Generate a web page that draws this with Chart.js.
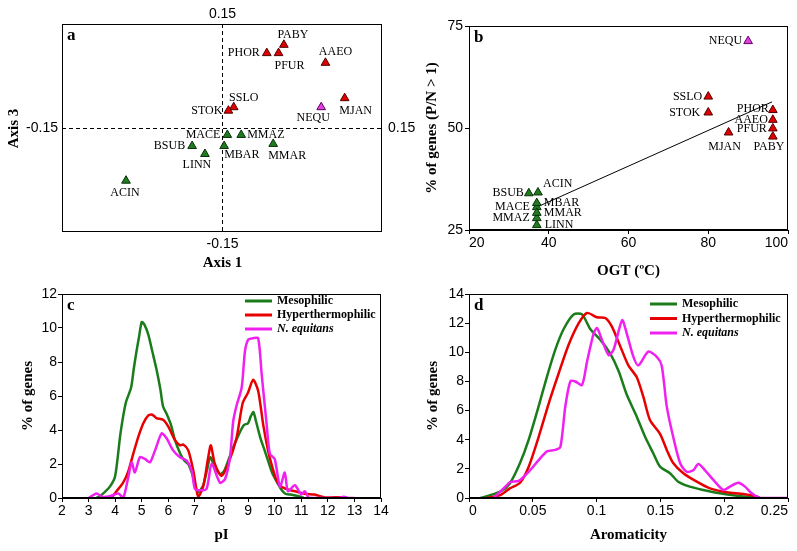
<!DOCTYPE html>
<html>
<head>
<meta charset="utf-8">
<script src="https://cdn.jsdelivr.net/npm/chart.js@4"></script>
<style>
  body { margin: 0; background: #fff; width: 797px; height: 551px; overflow: hidden; position: relative; }
  canvas { position: absolute; }
</style>
</head>
<body>
<canvas id="chartA" width="420" height="280" style="left:0;top:0"></canvas>
<canvas id="chartB" width="397" height="280" style="left:400px;top:0"></canvas>
<canvas id="chartC" width="400" height="271" style="left:0;top:280px"></canvas>
<canvas id="chartD" width="397" height="271" style="left:400px;top:280px"></canvas>
<script>
// genomes shown in panels a and b
const names  = ['PABY', 'PHOR', 'PFUR', 'AAEO', 'SSLO', 'STOK', 'MJAN', 'NEQU',
                'MACE', 'MMAZ', 'MBAR', 'MMAR', 'BSUB', 'LINN', 'ACIN'];
const groups = ['hyper', 'hyper', 'hyper', 'hyper', 'hyper', 'hyper', 'hyper', 'nequ',
                'meso', 'meso', 'meso', 'meso', 'meso', 'meso', 'meso'];

// panel a: correspondence analysis
const axis1 = [0.058, 0.042, 0.053, 0.097, 0.011, 0.006, 0.115, 0.093,
               0.005, 0.018, 0.002, 0.048, -0.028, -0.016, -0.090];
const axis3 = [0.120, 0.108, 0.108, 0.094, 0.030, 0.025, 0.043, 0.030,
               -0.010, -0.010, -0.026, -0.023, -0.026, -0.0375, -0.076];

// panel b: growth temperature vs % genes with P/N > 1
const ogt   = [96.2, 96.2, 96.2, 96.2, 80, 80, 85.1, 90,
               37, 37, 37, 37, 35, 37, 37.3];
const pnPct = [47.9, 54.4, 49.9, 52.0, 57.7, 53.8, 48.9, 71.3,
               30.6, 27.9, 31.6, 29.2, 34.0, 26.2, 34.2];
const trendOgt = [37, 96];
const trendPct = [30.6, 56.4];

// panel c: pI distributions [pI, % of genes]
const pIMeso = [[3.3,0],[3.5,0.2],[3.8,0.67],[4.0,1.3],[4.2,3.8],[4.4,5.6],[4.6,6.5],[4.7,7.6],[4.8,8.6],[4.9,9.5],
  [5.0,10.35],[5.1,10.2],[5.25,9.6],[5.4,8.6],[5.55,7.6],[5.7,6.4],[5.8,5.4],[5.95,4.9],[6.1,4.3],[6.25,3.4],
  [6.45,2.6],[6.6,2.2],[6.75,2.0],[6.9,1.4],[7.0,0.8],[7.12,0.35],[7.3,0.7],[7.45,1.6],[7.58,2.4],[7.75,1.8],
  [7.95,1.4],[8.1,1.6],[8.3,2.4],[8.5,3.2],[8.7,3.9],[8.85,4.3],[9.0,4.4],[9.1,4.8],[9.2,5.05],[9.3,4.5],
  [9.45,3.6],[9.6,2.9],[9.75,2.2],[9.9,1.5],[10.1,0.9],[10.25,0.5],[10.4,0.25],[10.6,0.2],[10.9,0.1],[11.1,0]];
const pIHyper = [[3.7,0],[3.9,0.1],[4.05,0.4],[4.3,0.9],[4.5,1.6],[4.68,2.6],[4.87,3.6],[5.06,4.4],[5.24,4.85],[5.4,4.9],
  [5.55,4.7],[5.8,4.6],[6.0,4.2],[6.25,3.4],[6.44,3.1],[6.56,3.15],[6.75,2.8],[6.94,1.6],[7.12,0.1],[7.31,0.66],
  [7.5,2.4],[7.6,3.1],[7.75,2.0],[8.0,1.3],[8.25,2.0],[8.56,3.5],[8.8,5.6],[9.0,6.2],[9.19,6.95],[9.38,6.3],
  [9.57,4.3],[9.75,2.8],[9.88,2.0],[10.07,1.05],[10.26,0.66],[10.5,0.5],[10.76,0.4],[11.13,0.25],[11.5,0.2],[11.9,0.03],
  [12.5,0.05],[12.7,0]];
const pINequ = [[3.0,0],[3.3,0.27],[3.5,0.07],[3.8,0.1],[4.12,0.27],[4.3,0],[4.49,1.2],[4.62,2.1],[4.74,1.5],[4.93,2.4],
  [5.12,2.3],[5.31,2.1],[5.5,2.8],[5.75,3.8],[5.94,3.5],[6.18,2.8],[6.44,2.4],[6.69,2.2],[6.88,1.6],[7.0,0.55],
  [7.19,0.45],[7.44,0.55],[7.63,2.0],[7.94,0.9],[8.13,1.1],[8.32,2.4],[8.44,4.5],[8.56,5.4],[8.76,6.5],[8.88,8.6],
  [9.0,9.3],[9.19,9.4],[9.38,9.4],[9.51,7.3],[9.7,4.3],[9.82,2.6],[10.0,2.3],[10.2,0.66],[10.38,1.5],[10.5,0.4],
  [10.76,0.75],[11.0,0.2],[11.13,0.4],[11.3,0],[12.4,0],[12.6,0.08],[12.8,0],[13.0,0]];

// panel d: aromaticity distributions [aromaticity, % of genes]
const aroMeso = [[0.009,0],[0.0245,0.43],[0.032,1.0],[0.040,2.4],[0.0468,4.0],[0.0546,6.3],[0.061,8.3],[0.0677,10.2],
  [0.0742,11.6],[0.082,12.6],[0.0886,12.6],[0.095,11.6],[0.103,10.85],[0.1107,9.9],[0.1173,8.7],[0.1236,7.1],
  [0.1314,5.6],[0.138,4.2],[0.1444,3.07],[0.1497,2.15],[0.1575,1.7],[0.164,1.12],[0.173,0.78],[0.1836,0.55],
  [0.1967,0.32],[0.21,0.16],[0.223,0.05],[0.228,0]];
const aroHyper = [[0.014,0],[0.0245,0.2],[0.032,0.66],[0.040,1.05],[0.0468,2.15],[0.0546,4.2],[0.0625,6.5],[0.0703,8.56],
  [0.078,10.5],[0.086,12.0],[0.0925,12.7],[0.1003,12.4],[0.1068,12.35],[0.112,11.76],[0.1186,10.4],[0.1249,9.1],
  [0.1314,8.3],[0.1366,6.95],[0.1418,5.35],[0.1497,4.4],[0.155,3.3],[0.16,2.4],[0.168,1.7],[0.1785,1.12],
  [0.1889,0.66],[0.202,0.39],[0.215,0.27],[0.2255,0.1],[0.228,0]];
const aroNequ = [[0.0193,0],[0.0285,0.78],[0.0324,1.1],[0.039,1.17],[0.0468,1.8],[0.0546,2.6],[0.0611,3.2],[0.0676,3.3],
  [0.0716,3.5],[0.0755,6.3],[0.0794,8.0],[0.0833,8.0],[0.0886,7.76],[0.0925,9.36],[0.0977,11.3],[0.1003,11.66],
  [0.1042,10.85],[0.1095,9.8],[0.1134,10.2],[0.12,12.2],[0.1236,11.3],[0.1288,9.7],[0.1327,9.1],[0.1405,10.04],
  [0.147,9.7],[0.151,9.1],[0.155,6.27],[0.16,4.2],[0.1654,2.4],[0.1706,1.8],[0.1758,1.9],[0.1797,2.33],
  [0.185,1.9],[0.1915,1.24],[0.1993,0.55],[0.2045,0.78],[0.211,1.05],[0.2163,0.78],[0.2215,0.32],[0.228,0],[0.25,0]];

const seriesLabels = ['Mesophilic', 'Hyperthermophilic', 'N. equitans'];

// ---- styling ----
const lineColors = ['#1a7c1a', '#e80000', '#f020f0'];
const markFill = { hyper: '#e00000', meso: '#1e7b1e', nequ: '#e040e0' };
const markEdge = { hyper: '#500000', meso: '#0a300a', nequ: '#600060' };
const tickFont = { family: '"Liberation Sans", Arial, sans-serif', size: 14 };
const titleFont = { family: '"Liberation Serif", "Times New Roman", serif', size: 15, weight: 'bold' };

// label offsets [dx, dy, align] per genome
const aLabelPos = [[9,-10,'center'],[-7,0,'right'],[11,13,'center'],[10,-11,'center'],[10,-9,'center'],
  [-6,0,'right'],[11,13,'center'],[-8,11,'center'],[-7,0,'right'],[6,0,'left'],
  [0,9,'left'],[14,12,'center'],[-7,0,'right'],[-8,11,'center'],[-1,12,'center']];
const bLabelPos = [[-4,10,'center'],[-4,-1,'right'],[-6,0,'right'],[-5,0,'right'],[-6,0,'right'],
  [-8,0,'right'],[-4,14,'center'],[-6,0,'right'],[-7,0,'right'],[-7,0,'right'],
  [7,0,'left'],[7,0,'left'],[-5,0,'right'],[8,0,'left'],[5,-9,'left']];

// ---- plugins ----
const frame = {
  id: 'frame',
  afterDraw(chart) {
    const { ctx, chartArea: a } = chart;
    ctx.save();
    ctx.strokeStyle = '#000';
    ctx.lineWidth = 1;
    ctx.strokeRect(Math.round(a.left) + 0.5, Math.round(a.top) + 0.5,
      Math.round(a.right - a.left) - 1, Math.round(a.bottom - a.top) - 1);
    ctx.restore();
  }
};

const panelTag = {
  id: 'panelTag',
  afterDraw(chart, args, opts) {
    const { ctx, chartArea: a } = chart;
    ctx.save();
    ctx.font = opts.font;
    ctx.fillStyle = '#000';
    ctx.textBaseline = 'top';
    ctx.fillText(opts.text, a.left + 5, a.top + 3);
    ctx.restore();
  }
};

const pointLabels = {
  id: 'pointLabels',
  afterDatasetsDraw(chart, args, opts) {
    const ctx = chart.ctx;
    const meta = chart.getDatasetMeta(0);
    ctx.save();
    ctx.font = '12px "Liberation Serif", serif';
    ctx.fillStyle = '#000';
    ctx.textBaseline = 'middle';
    meta.data.forEach((pt, i) => {
      const [dx, dy, align] = opts.offsets[i];
      ctx.textAlign = align;
      ctx.fillText(names[i], pt.x + dx, pt.y + dy);
    });
    ctx.restore();
  }
};

// dashed zero lines + end labels for the ordination plot
const crossHairs = {
  id: 'crossHairs',
  beforeDatasetsDraw(chart) {
    const { ctx, chartArea: a, scales: { x, y } } = chart;
    const x0 = Math.round(x.getPixelForValue(0)) + 0.5;
    const y0 = Math.round(y.getPixelForValue(0)) + 0.5;
    ctx.save();
    ctx.strokeStyle = '#000';
    ctx.lineWidth = 1;
    ctx.setLineDash([4, 3]);
    ctx.beginPath();
    ctx.moveTo(x0, a.top); ctx.lineTo(x0, a.bottom);
    ctx.moveTo(a.left, y0); ctx.lineTo(a.right, y0);
    ctx.stroke();
    ctx.setLineDash([]);

    ctx.fillStyle = '#000';
    ctx.font = '14px "Liberation Sans", Arial, sans-serif';
    ctx.textBaseline = 'middle';
    ctx.textAlign = 'center';
    ctx.fillText(String(y.max), x0, a.top - 10);
    ctx.fillText(String(y.min), x0, a.bottom + 12);
    ctx.textAlign = 'right';
    ctx.fillText(String(x.min), a.left - 4, y0);
    ctx.textAlign = 'left';
    ctx.fillText(String(x.max), a.right + 6, y0);

    ctx.font = 'bold 15px "Liberation Serif", serif';
    ctx.textAlign = 'center';
    ctx.fillText('Axis 1', x0, a.bottom + 31);
    ctx.translate(14, y0);
    ctx.rotate(-Math.PI / 2);
    ctx.fillText('Axis 3', 0, 0);
    ctx.restore();
  }
};

const lineKey = {
  id: 'lineKey',
  afterDraw(chart, args, opts) {
    const { ctx, chartArea: a } = chart;
    ctx.save();
    chart.data.datasets.forEach((ds, i) => {
      const y = a.top + opts.top + i * opts.step;
      const x = a.right - opts.right;
      ctx.strokeStyle = ds.borderColor;
      ctx.lineWidth = 3;
      ctx.beginPath();
      ctx.moveTo(x, y); ctx.lineTo(x + 27, y);
      ctx.stroke();
      ctx.font = (ds.label === seriesLabels[2] ? 'italic ' : '') + 'bold 12px "Liberation Serif", serif';
      ctx.fillStyle = '#000';
      ctx.textBaseline = 'middle';
      ctx.textAlign = 'left';
      ctx.fillText(ds.label, x + 32, y);
    });
    ctx.restore();
  }
};

function fixSize(prop, val) {
  return s => { s[prop] = val; s.paddingLeft = 0; s.paddingRight = 0; s.paddingTop = 0; s.paddingBottom = 0; };
}

function axis(min, max, step, title, sizeProp, size, tickPad, titlePad, fmt, align) {
  return {
    type: 'linear',
    min: min, max: max,
    title: { display: true, text: title, color: '#000', font: titleFont, padding: titlePad },
    ticks: { stepSize: step, color: '#000', font: tickFont, padding: tickPad, autoSkip: false, maxRotation: 0,
             align: align || 'center', callback: fmt || (v => v) },
    grid: { drawOnChartArea: false, drawTicks: true, tickLength: 4, color: '#000' },
    border: { display: true, color: '#000' },
    afterFit: fixSize(sizeProp, size)
  };
}

const noFx = { legend: { display: false }, tooltip: { enabled: false } };

// ---- panel a ----
new Chart(document.getElementById('chartA'), {
  type: 'scatter',
  data: {
    datasets: [{
      data: names.map((n, i) => ({ x: axis1[i], y: axis3[i] })),
      pointStyle: 'triangle',
      pointRadius: 5,
      pointBackgroundColor: groups.map(g => markFill[g]),
      pointBorderColor: groups.map(g => markEdge[g]),
      pointBorderWidth: 1
    }]
  },
  options: {
    responsive: false,
    animation: false,
    layout: { padding: { left: 62, right: 38, top: 24, bottom: 48 } },
    plugins: Object.assign({}, noFx, {
      panelTag: { text: 'a', font: 'bold 17px "Liberation Serif", serif' },
      pointLabels: { offsets: aLabelPos }
    }),
    scales: {
      x: { display: false, min: -0.15, max: 0.15 },
      y: { display: false, min: -0.15, max: 0.15 }
    }
  },
  plugins: [crossHairs, frame, panelTag, pointLabels]
});

// ---- panel b ----
new Chart(document.getElementById('chartB'), {
  type: 'scatter',
  data: {
    datasets: [{
      data: names.map((n, i) => ({ x: ogt[i], y: pnPct[i] })),
      pointStyle: 'triangle',
      pointRadius: 5,
      pointBackgroundColor: groups.map(g => markFill[g]),
      pointBorderColor: groups.map(g => markEdge[g]),
      pointBorderWidth: 1,
      order: 1
    }, {
      data: trendOgt.map((v, i) => ({ x: v, y: trendPct[i] })),
      showLine: true,
      borderColor: '#000',
      borderWidth: 1,
      pointRadius: 0,
      order: 2
    }]
  },
  options: {
    responsive: false,
    animation: false,
    layout: { padding: { left: 23, right: 9, top: 26, bottom: 0 } },
    plugins: Object.assign({}, noFx, {
      panelTag: { text: 'b', font: 'bold 17px "Liberation Serif", serif' },
      pointLabels: { offsets: bLabelPos }
    }),
    scales: {
      x: axis(20, 100, 20, 'OGT (ºC)', 'height', 50, 1, { bottom: 0 }, null, 'inner'),
      y: axis(25, 75, 25, '% of genes (P/N > 1)', 'width', 46, 2, { top: 0 })
    }
  },
  plugins: [frame, panelTag, pointLabels]
});

// ---- panels c and d ----
function curves(sets) {
  return sets.map((pts, i) => ({
    label: seriesLabels[i],
    data: pts.map(p => ({ x: p[0], y: p[1] })),
    borderColor: lineColors[i],
    borderWidth: 2.5,
    pointRadius: 0,
    tension: 0.25,
    fill: false,
    order: 3 - i
  }));
}

new Chart(document.getElementById('chartC'), {
  type: 'line',
  data: { datasets: curves([pIMeso, pIHyper, pINequ]) },
  options: {
    responsive: false,
    animation: false,
    layout: { padding: { left: 19, right: 19, top: 14, bottom: 0 } },
    plugins: Object.assign({}, noFx, {
      panelTag: { text: 'c', font: 'bold 17px "Liberation Serif", serif' },
      lineKey: { right: 136, top: 7, step: 14 }
    }),
    scales: {
      x: axis(2, 14, 1, 'pI', 'height', 53, 1, { bottom: 7 }),
      y: axis(0, 12, 2, '% of genes', 'width', 43, 1, { top: 0 })
    }
  },
  plugins: [frame, panelTag, lineKey]
});

new Chart(document.getElementById('chartD'), {
  type: 'line',
  data: { datasets: curves([aroMeso, aroHyper, aroNequ]) },
  options: {
    responsive: false,
    animation: false,
    layout: { padding: { left: 24, right: 9, top: 14, bottom: 0 } },
    plugins: Object.assign({}, noFx, {
      panelTag: { text: 'd', font: 'bold 17px "Liberation Serif", serif' },
      lineKey: { right: 138, top: 10, step: 14.5 }
    }),
    scales: {
      x: axis(0, 0.25, 0.05, 'Aromaticity', 'height', 53, 1, { bottom: 7 }, v => +v.toFixed(2), 'inner'),
      y: axis(0, 14, 2, '% of genes', 'width', 45, 1, { top: 0 })
    }
  },
  plugins: [frame, panelTag, lineKey]
});
</script>
</body>
</html>
